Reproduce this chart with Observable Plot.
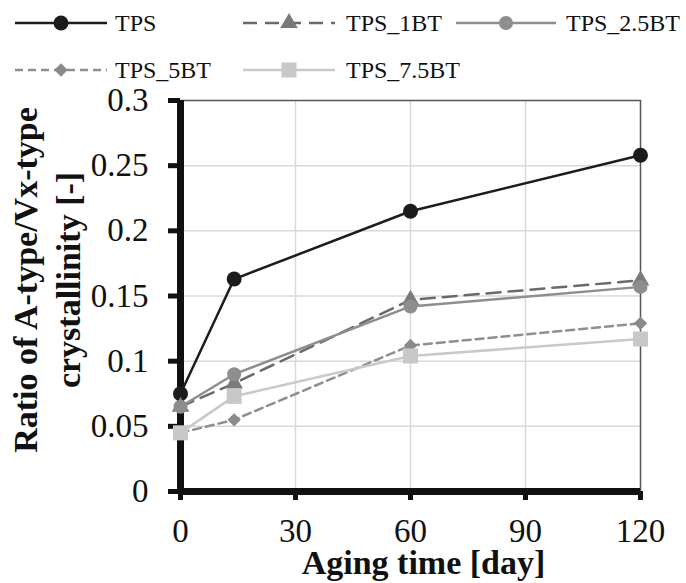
<!DOCTYPE html>
<html><head><meta charset="utf-8">
<script src="https://cdn.jsdelivr.net/npm/d3@7"></script>
<script src="https://cdn.jsdelivr.net/npm/@observablehq/plot@0.6"></script>
<style>
body{margin:0;background:#fff;}
#wrap{position:relative;width:686px;height:583px;overflow:hidden;background:#fff;}
#legend{position:absolute;left:0;top:0;}
#chart{position:absolute;left:0;top:90px;}
</style></head><body>
<div id="wrap"><svg id="legend" width="686" height="90"></svg><div id="chart"></div></div>
<script>
// ---- data ----
const days = [0, 14, 60, 120];
const seriesNames = ["TPS", "TPS_1BT", "TPS_2.5BT", "TPS_5BT", "TPS_7.5BT"];
const tps     = [0.075, 0.163, 0.215, 0.258];
const tps1bt  = [0.065, 0.083, 0.147, 0.162];
const tps25bt = [0.065, 0.090, 0.142, 0.157];
const tps5bt  = [0.045, 0.055, 0.112, 0.129];
const tps75bt = [0.045, 0.073, 0.104, 0.117];
const xTicks = [0, 30, 60, 90, 120];
const xTickLabels = ["0", "30", "60", "90", "120"];
const yTicks = [0, 0.05, 0.1, 0.15, 0.2, 0.25, 0.3];
const yTickLabels = ["0", "0.05", "0.1", "0.15", "0.2", "0.25", "0.3"];
const xLabel = "Aging time [day]";
const yLabelLines = ["Ratio of A-type/Vx-type", "crystallinity [-]"];

// ---- styles ----
const seriesValues = [tps, tps1bt, tps25bt, tps5bt, tps75bt];
const styles = [
  {color: "#1c1c1c", fill: "#1c1c1c", dash: null,   symbol: "circle",   r: 7.5},
  {color: "#6a6a6a", fill: "#7a7a7a", dash: "14,8", symbol: "triangle", r: 6.5},
  {color: "#8e8e8e", fill: "#8e8e8e", dash: null,   symbol: "circle",   r: 7},
  {color: "#8f8f8f", fill: "#8a8a8a", dash: "8,5",  symbol: "diamond2", r: 6},
  {color: "#c9c9c9", fill: "#c8c8c8", dash: null,   symbol: "square",   r: 8.5}
];

const rows = seriesNames.flatMap((name, i) =>
  days.map((d, j) => ({series: name, day: d, value: seriesValues[i][j]})));

const seriesMarks = seriesNames.flatMap((name, i) => {
  const s = styles[i];
  const data = rows.filter(r => r.series === name);
  return [
    Plot.line(data, {x: "day", y: "value", stroke: s.color, strokeWidth: 2.5,
      strokeDasharray: s.dash ?? undefined}),
    Plot.dot(data, {x: "day", y: "value", symbol: s.symbol, r: s.r, fill: s.fill, stroke: "none"})
  ];
});

const fmtX = d => xTickLabels[xTicks.findIndex(t => Math.abs(t - d) < 1e-9)];
const fmtY = d => yTickLabels[yTicks.findIndex(t => Math.abs(t - d) < 1e-9)];
const labelFont = {fontSize: 34, fontWeight: "bold", textAnchor: "middle", lineAnchor: "middle", fill: "#111"};

const chart = Plot.plot({
  width: 686,
  height: 493,
  marginTop: 10,
  marginBottom: 92,
  marginLeft: 180,
  marginRight: 46,
  style: {fontFamily: "'Liberation Serif', 'Times New Roman', serif", fontSize: "33px", color: "#111", background: "#fff", overflow: "visible"},
  x: {domain: [0, 120], label: null},
  y: {domain: [0, 0.3], label: null},
  marks: [
    Plot.gridX([30, 60, 90], {stroke: "#d9d9d9", strokeOpacity: 1, strokeWidth: 1.5}),
    Plot.gridY([0.05, 0.1, 0.15, 0.2, 0.25], {stroke: "#d9d9d9", strokeOpacity: 1, strokeWidth: 1.5}),
    Plot.frame({stroke: "#555", strokeWidth: 1.5}),
    Plot.ruleX([0], {stroke: "#111", strokeWidth: 7}),
    Plot.ruleY([0], {stroke: "#111", strokeWidth: 7}),
    Plot.axisX({ticks: xTicks, tickFormat: fmtX, tickSize: 9, tickPadding: 18, strokeWidth: 5, fontSize: 33, label: null}),
    Plot.axisY({ticks: yTicks, tickFormat: fmtY, tickSize: 12, tickPadding: 20, strokeWidth: 5, fontSize: 33, label: null}),
    Plot.text([xLabel], {text: d => d, frameAnchor: "bottom", dx: 13, dy: 72, ...labelFont}),
    Plot.text([yLabelLines[0]], {text: d => d, frameAnchor: "left", rotate: -90, dx: -154, dy: -16, ...labelFont}),
    Plot.text([yLabelLines[1]], {text: d => d, frameAnchor: "left", rotate: -90, dx: -111, dy: -16, ...labelFont}),
    ...seriesMarks
  ]
});
document.getElementById("chart").appendChild(chart);

// ---- legend ----
const legendLayout = [
  {x0: 15,  len: 92,  tx: 115, y: 23},
  {x0: 243, len: 92,  tx: 346, y: 23},
  {x0: 456, len: 100, tx: 566, y: 23},
  {x0: 15,  len: 92,  tx: 115, y: 70},
  {x0: 243, len: 92,  tx: 346, y: 70}
];
const symbolMap = {circle: d3.symbolCircle, triangle: d3.symbolTriangle, diamond2: d3.symbolDiamond2, square: d3.symbolSquare};
const lg = d3.select("#legend");
seriesNames.forEach((name, i) => {
  const s = styles[i], L = legendLayout[i];
  lg.append("line").attr("x1", L.x0).attr("x2", L.x0 + L.len).attr("y1", L.y).attr("y2", L.y)
    .attr("stroke", s.color).attr("stroke-width", 2.5).attr("stroke-dasharray", s.dash);
  lg.append("path").attr("d", d3.symbol(symbolMap[s.symbol], Math.PI * s.r * s.r)())
    .attr("transform", `translate(${L.x0 + L.len / 2},${L.y})`).attr("fill", s.fill);
  lg.append("text").attr("x", L.tx).attr("y", L.y + 8).text(name)
    .attr("font-family", "'Liberation Serif', 'Times New Roman', serif").attr("font-size", 24).attr("fill", "#111");
});
</script>
</body></html>
